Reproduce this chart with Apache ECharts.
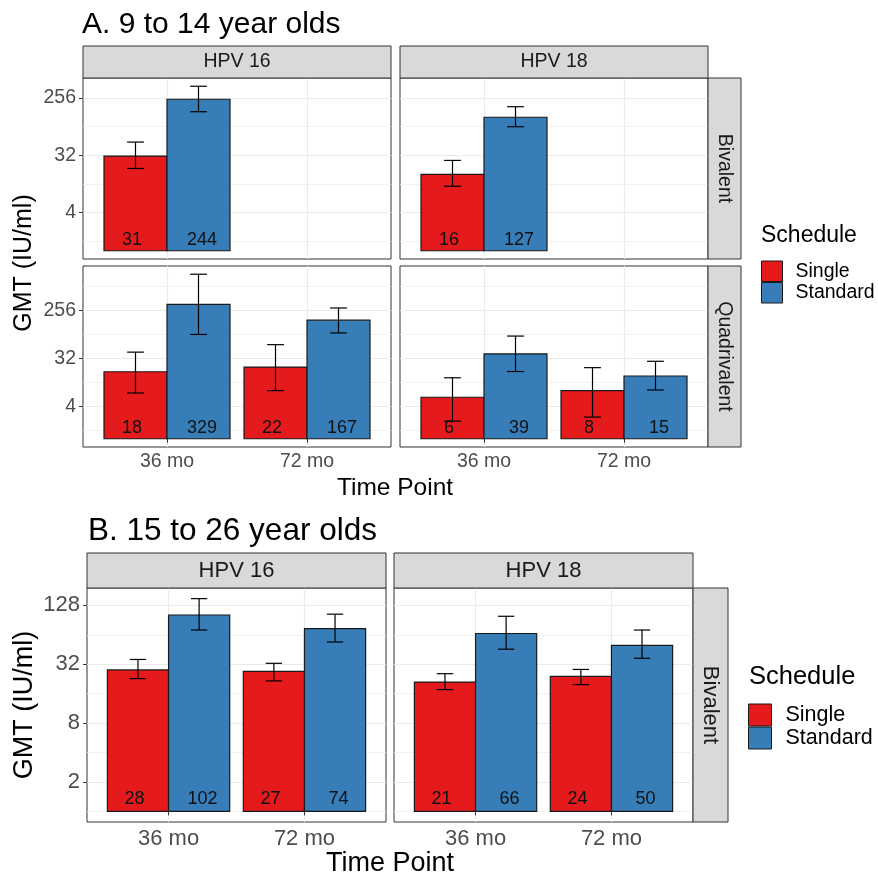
<!DOCTYPE html>
<html><head><meta charset="utf-8">
<script src="https://cdn.jsdelivr.net/npm/echarts@6/dist/echarts.min.js"></script>
<style>html,body{margin:0;padding:0;background:#fff}#c{width:878px;height:882px}</style>
</head><body><div id="c"></div>
<script>
// ---------- DATA ----------
const timePoints = ['36 mo', '72 mo'];
const scheduleNames = ['Single', 'Standard'];
const yTicksA = [4, 32, 256];
const yTicksB = [2, 8, 32, 128];

// A. 9 to 14 year olds — values in timePoints order
const A_HPV16_Biv_Single = [31];        const A_HPV16_Biv_Single_lo = [19.8];      const A_HPV16_Biv_Single_hi = [51.6];
const A_HPV16_Biv_Standard = [244];     const A_HPV16_Biv_Standard_lo = [155];     const A_HPV16_Biv_Standard_hi = [391];
const A_HPV18_Biv_Single = [16];        const A_HPV18_Biv_Single_lo = [10.4];      const A_HPV18_Biv_Single_hi = [26.5];
const A_HPV18_Biv_Standard = [127];     const A_HPV18_Biv_Standard_lo = [90];      const A_HPV18_Biv_Standard_hi = [186];
const A_HPV16_Quad_Single = [18, 22];   const A_HPV16_Quad_Single_lo = [7.2, 8.0]; const A_HPV16_Quad_Single_hi = [42, 58];
const A_HPV16_Quad_Standard = [329, 167]; const A_HPV16_Quad_Standard_lo = [90, 96]; const A_HPV16_Quad_Standard_hi = [1210, 282];
const A_HPV18_Quad_Single = [6, 8];     const A_HPV18_Quad_Single_lo = [2.14, 2.55]; const A_HPV18_Quad_Single_hi = [13.9, 21.5];
const A_HPV18_Quad_Standard = [39, 15]; const A_HPV18_Quad_Standard_lo = [18.2, 8.2]; const A_HPV18_Quad_Standard_hi = [84, 28.3];

// B. 15 to 26 year olds (Bivalent)
const B_HPV16_Single = [28, 27];        const B_HPV16_Single_lo = [22.8, 21.6];    const B_HPV16_Single_hi = [35.8, 32.7];
const B_HPV16_Standard = [102, 74];     const B_HPV16_Standard_lo = [71.6, 54];    const B_HPV16_Standard_hi = [150, 104];
const B_HPV18_Single = [21, 24];        const B_HPV18_Single_lo = [17.6, 19.8];    const B_HPV18_Single_hi = [25.6, 28.3];
const B_HPV18_Standard = [66, 50];      const B_HPV18_Standard_lo = [45.6, 36.8];  const B_HPV18_Standard_hi = [99, 71.6];

// ---------- LAYOUT ----------
const FONT = "'Liberation Sans', Arial, Helvetica, sans-serif";
const COLORS = {Single: '#E41A1C', Standard: '#377EB8'};

const panels = [
  {box:[83, 78, 308, 181], row:'A1', showX:false, showY:true,  tick:19.5, xMargin:5, labOff:11,
   S:[A_HPV16_Biv_Single, A_HPV16_Biv_Single_lo, A_HPV16_Biv_Single_hi], T:[A_HPV16_Biv_Standard, A_HPV16_Biv_Standard_lo, A_HPV16_Biv_Standard_hi], ticks:yTicksA},
  {box:[400, 78, 308, 181], row:'A1', showX:false, showY:false, tick:19.5, xMargin:5, labOff:11,
   S:[A_HPV18_Biv_Single, A_HPV18_Biv_Single_lo, A_HPV18_Biv_Single_hi], T:[A_HPV18_Biv_Standard, A_HPV18_Biv_Standard_lo, A_HPV18_Biv_Standard_hi], ticks:yTicksA},
  {box:[83, 266, 308, 181], row:'A2', showX:true, showY:true,  tick:19.5, xMargin:5, labOff:11,
   S:[A_HPV16_Quad_Single, A_HPV16_Quad_Single_lo, A_HPV16_Quad_Single_hi], T:[A_HPV16_Quad_Standard, A_HPV16_Quad_Standard_lo, A_HPV16_Quad_Standard_hi], ticks:yTicksA},
  {box:[400, 266, 308, 181], row:'A2', showX:true, showY:false, tick:19.5, xMargin:5, labOff:11,
   S:[A_HPV18_Quad_Single, A_HPV18_Quad_Single_lo, A_HPV18_Quad_Single_hi], T:[A_HPV18_Quad_Standard, A_HPV18_Quad_Standard_lo, A_HPV18_Quad_Standard_hi], ticks:yTicksA},
  {box:[87, 588, 299, 234], row:'B', showX:true, showY:true,  tick:22, xMargin:6, labOff:12,
   S:[B_HPV16_Single, B_HPV16_Single_lo, B_HPV16_Single_hi], T:[B_HPV16_Standard, B_HPV16_Standard_lo, B_HPV16_Standard_hi], ticks:yTicksB},
  {box:[394, 588, 299, 234], row:'B', showX:true, showY:false, tick:22, xMargin:6, labOff:12,
   S:[B_HPV18_Single, B_HPV18_Single_lo, B_HPV18_Single_hi], T:[B_HPV18_Standard, B_HPV18_Standard_lo, B_HPV18_Standard_hi], ticks:yTicksB}
];

// y ranges per facet row (free y scale per row), ggplot-style 5% expansion of [0, max]
const rowMax = {};
panels.forEach(p => {
  const m = Math.max(...p.S[2].map(Math.log2), ...p.T[2].map(Math.log2));
  rowMax[p.row] = Math.max(rowMax[p.row] || 0, m);
});

const grids = [], xAxes = [], yAxes = [], series = [];
const xVals = timePoints.map((_, i) => i + 1);

panels.forEach((p, i) => {
  const M = rowMax[p.row];
  const ymin = -0.05 * M, ymax = 1.05 * M;
  const major = p.ticks.map(Math.log2);
  const step = major[1] - major[0];
  const minor = [];
  for (let v = major[0] - step * 1.5; v <= ymax; v += step) if (v >= ymin) minor.push(v);

  grids.push({left:p.box[0], top:p.box[1], width:p.box[2], height:p.box[3], show:true,
    backgroundColor:'#fff', borderColor:'#333333', borderWidth:1, outerBoundsMode:'none', containLabel:false});
  xAxes.push({type:'value', gridIndex:i, min:0.4, max:2.6, position:'bottom',
    axisLine:{show:false},
    axisTick:{show:p.showX, length:4, lineStyle:{color:'#333333', width:1}, customValues:xVals},
    axisLabel:{show:p.showX, customValues:xVals, formatter:v => timePoints[Math.round(v) - 1],
      fontSize:p.tick, color:'#4D4D4D', fontFamily:FONT, margin:p.xMargin},
    splitLine:{show:true, lineStyle:{color:'#EBEBEB', width:1.1}}});
  // minor grid axis
  yAxes.push({type:'value', gridIndex:i, min:ymin, max:ymax, position:'left',
    axisLine:{show:false}, axisTick:{show:false, customValues:minor}, axisLabel:{show:false, customValues:minor},
    splitLine:{show:true, lineStyle:{color:'#EDEDED', width:0.8}}});
  // major axis
  yAxes.push({type:'value', gridIndex:i, min:ymin, max:ymax, position:'left',
    axisLine:{show:false},
    axisTick:{show:p.showY, length:4, lineStyle:{color:'#333333', width:1}, customValues:major},
    axisLabel:{show:p.showY, customValues:major, formatter:v => String(Math.round(Math.pow(2, v))),
      fontSize:p.tick, color:'#4D4D4D', fontFamily:FONT, margin:7},
    splitLine:{show:true, lineStyle:{color:'#EBEBEB', width:1.1}}});

  [['Single', p.S, -1], ['Standard', p.T, 1]].forEach(([name, arr, side]) => {
    const [vals, lo, hi] = arr;
    const data = vals.map((v, k) => [k + 1, Math.log2(v), Math.log2(lo[k]), Math.log2(hi[k]), side, v]);
    const color = COLORS[name];
    series.push({
      type:'custom', name, xAxisIndex:i, yAxisIndex:2 * i + 1,
      itemStyle:{color, borderColor:'#1A1A1A', borderWidth:1},
      encode:{x:0, y:1}, data, clip:false, z:3,
      renderItem:(params, api) => {
        const xc = api.value(0), yv = api.value(1), ylo = api.value(2), yhi = api.value(3), sd = api.value(4);
        const label = String(api.value(5));
        const half = 0.225, cap = 0.06;
        const bx = xc + sd * half;
        const pL = api.coord([bx - half, 0]);
        const pR = api.coord([bx + half, yv]);
        const eT = api.coord([bx, yhi]), eB = api.coord([bx, ylo]);
        const cL = api.coord([bx - cap, yhi])[0], cR = api.coord([bx + cap, yhi])[0];
        const lp = api.coord([xc + sd * 0.25, 0]);
        const ls = {stroke:'#000', lineWidth:1.2};
        return {type:'group', children:[
          {type:'rect', shape:{x:pL[0], y:pR[1], width:pR[0] - pL[0], height:pL[1] - pR[1]},
            style:{fill:color, stroke:'#1A1A1A', lineWidth:1.2}},
          {type:'line', shape:{x1:eT[0], y1:eT[1], x2:eB[0], y2:eB[1]}, style:ls},
          {type:'line', shape:{x1:cL, y1:eT[1], x2:cR, y2:eT[1]}, style:ls},
          {type:'line', shape:{x1:cL, y1:eB[1], x2:cR, y2:eB[1]}, style:ls},
          {type:'text', x:lp[0], y:lp[1] - p.labOff, style:{text:label, fill:'#111', fontSize:18,
            fontFamily:FONT, align:'center', verticalAlign:'middle'}}
        ]};
      }
    });
  });
});

// ---------- decorations (strips, titles) ----------
function strip(x, y, w, h, text, fs, rot) {
  return [
    {type:'rect', shape:{x, y, width:w, height:h}, style:{fill:'#D9D9D9', stroke:'#333333', lineWidth:1}, z:10},
    {type:'text', x:x + w / 2, y:y + h / 2, rotation:rot || 0, z:11,
      style:{text, fill:'#1A1A1A', fontSize:fs, fontFamily:FONT, align:'center', verticalAlign:'middle'}}
  ];
}
function txt(x, y, text, fs, opts) {
  return Object.assign({type:'text', x, y, z:11,
    style:Object.assign({text, fill:'#000', fontSize:fs, fontFamily:FONT, align:'left', verticalAlign:'middle'}, (opts || {}).style || {})},
    (opts || {}).el || {});
}
const graphics = [].concat(
  strip(83, 46, 308, 32, 'HPV 16', 19.5), strip(400, 46, 308, 32, 'HPV 18', 19.5),
  strip(708, 78, 33, 181, 'Bivalent', 19.5, -Math.PI / 2), strip(708, 266, 33, 181, 'Quadrivalent', 19.5, -Math.PI / 2),
  strip(87, 553, 299, 35, 'HPV 16', 22), strip(394, 553, 299, 35, 'HPV 18', 22),
  strip(693, 588, 35, 234, 'Bivalent', 22, -Math.PI / 2),
  [
    txt(82, 25, 'A. 9 to 14 year olds', 30),
    txt(88, 531, 'B. 15 to 26 year olds', 31.5),
    txt(395, 488, 'Time Point', 24.5, {style:{align:'center'}}),
    txt(390, 864, 'Time Point', 27, {style:{align:'center'}}),
    txt(24, 263, 'GMT (IU/ml)', 25, {style:{align:'center'}, el:{rotation:Math.PI / 2}}),
    txt(25, 705, 'GMT (IU/ml)', 27, {style:{align:'center'}, el:{rotation:Math.PI / 2}}),
    txt(761, 236, 'Schedule', 23),
    txt(749, 676.5, 'Schedule', 25.5)
  ]
);

const legendCommon = {data:scheduleNames, orient:'vertical', icon:'rect', itemGap:0, padding:0, selectedMode:false,
  itemStyle:{borderColor:'#1A1A1A', borderWidth:1}};
const option = {
  animation:false,
  backgroundColor:'#fff',
  grid:grids, xAxis:xAxes, yAxis:yAxes, series,
  legend:[
    Object.assign({}, legendCommon, {left:761, top:260.5, itemWidth:21, itemHeight:20.5,
      textStyle:{fontSize:19.5, fontFamily:FONT, color:'#000', lineHeight:20.5, padding:[0, 0, 0, 8]}}),
    Object.assign({}, legendCommon, {left:748, top:703.5, itemWidth:23, itemHeight:22,
      textStyle:{fontSize:21.5, fontFamily:FONT, color:'#000', lineHeight:22, padding:[0, 0, 0, 9]}})
  ],
  graphic:graphics
};
const chart = echarts.init(document.getElementById('c'), null, {renderer:'canvas'});
chart.setOption(option);
</script></body></html>
